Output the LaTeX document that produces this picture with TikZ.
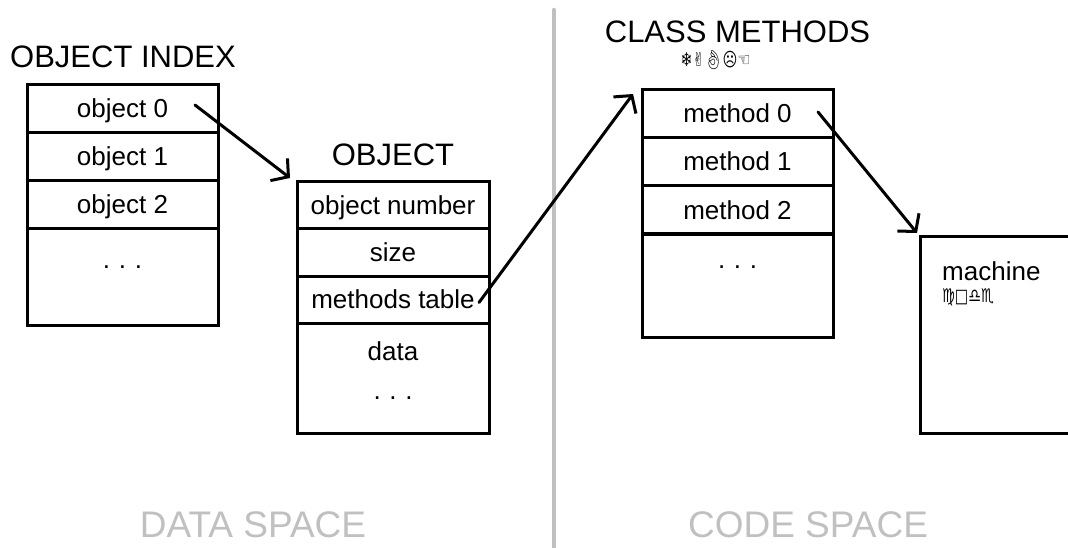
\documentclass[tikz,border=0pt]{standalone}
\usepackage{fontspec}
\setmainfont{Liberation Sans}
\newfontfamily\symfont{DejaVu Sans}
\newfontfamily\emojifont{Noto Emoji}
\usetikzlibrary{positioning,arrows.meta}
\definecolor{spacegray}{RGB}{192,192,192}

\tikzset{
  cell/.style={draw, line width=3pt, outer sep=0pt, inner sep=0pt,
    minimum width=191pt, minimum height=48pt,
    text height=21pt, text depth=3pt, font=\fontsize{26}{30}\selectfont},
  celltext/.style={inner sep=0pt, font=\fontsize{26}{30}\selectfont},
  title/.style={inner sep=0pt, font=\fontsize{31}{36}\selectfont},
  spacelabel/.style={inner sep=0pt, text=spacegray, font=\fontsize{37}{42}\selectfont},
  glyphs/.style={inner sep=0pt, xscale=0.75, font=\fontsize{19}{21}\symfont},
  ptr/.style={line width=3pt, line cap=round, -{Straight Barb[length=12pt,width=28pt]}},
}

\begin{document}
\begin{tikzpicture}[x=1pt,y=-1pt]
  \useasboundingbox (0,0) rectangle (1068,548);

  % divider between the two spaces
  \draw [spacegray, line width=4.5pt, line cap=round] (554,10) -- (554,560);

  % object index
  \node [cell, anchor=north] (obj0) at (122.5,85) {object 0};
  \node [cell, below=0pt of obj0] (obj1) {object 1};
  \node [cell, below=0pt of obj1] (obj2) {object 2};
  \node [cell, below=0pt of obj2, minimum height=96pt] (objrest) {};
  \node [celltext, anchor=base] (objdots) at ([yshift=-40pt]objrest.north) {.\,\,.\,\,.};
  \node [title, above right=17pt and -17pt of obj0.north west] (indextitle) {OBJECT INDEX};

  % object
  \node [cell, anchor=north, minimum width=192pt, minimum height=47pt] (objnum) at (393,182) {object number};
  \node [cell, below=0pt of objnum, minimum width=192pt, minimum height=47pt] (size) {size};
  \node [cell, below=0pt of size, minimum width=192pt, minimum height=47pt] (mtab) {methods table};
  \node [cell, below=0pt of mtab, minimum width=192pt, minimum height=110pt] (data) {};
  \node [celltext, anchor=base] (datatext) at ([yshift=-37pt]data.north) {data};
  \node [celltext, anchor=base] (datadots) at ([yshift=-76pt]data.north) {.\,\,.\,\,.};
  \node [title, above=16pt of objnum] (objtitle) {OBJECT};

  % class methods
  \node [cell, anchor=north] (meth0) at (737.5,90) {method 0};
  \node [cell, below=0pt of meth0] (meth1) {method 1};
  \node [cell, below=0pt of meth1] (meth2) {method 2};
  \node [cell, below=0pt of meth2, minimum height=103pt] (methrest) {};
  \node [celltext, anchor=base] (methdots) at ([yshift=-35pt]methrest.north) {.\,\,.\,\,.};
  \node [title, above=47pt of meth0] (classtitle) {CLASS METHODS};
  \node [glyphs, anchor=north] (tableglyphs) at ([xshift=-22pt,yshift=-7pt]classtitle.south)
    {❄✌{\emojifont 👌}☹☜};

  % machine code
  \node [draw, line width=3pt, outer sep=0pt, inner sep=0pt, minimum width=170pt,
    minimum height=197pt, anchor=north west] (machine) at (920,236) {};
  \node [celltext, anchor=base west] (mlabel) at ([xshift=22pt,yshift=-44pt]machine.north west) {machine};
  \node [glyphs, anchor=north west] (codeglyphs) at ([yshift=-8pt]mlabel.base west) {♍□♎♏};

  % pointers
  \draw [ptr] ([xshift=-23pt,yshift=4pt]obj0.east) -- ([xshift=-7pt,yshift=4pt]objnum.north west);
  \draw [ptr] ([xshift=-10pt,yshift=-3pt]mtab.east) -- ([xshift=-9pt,yshift=-4pt]meth0.north west);
  \draw [ptr] ([xshift=-15pt,yshift=2pt]meth0.east) -- ([xshift=-3pt,yshift=3pt]machine.north west);

  % space labels
  \node [spacelabel, anchor=base] (dataspace) at (253,537) {DATA SPACE};
  \node [spacelabel, anchor=base] (codespace) at (808,537) {CODE SPACE};
\end{tikzpicture}
\end{document}
